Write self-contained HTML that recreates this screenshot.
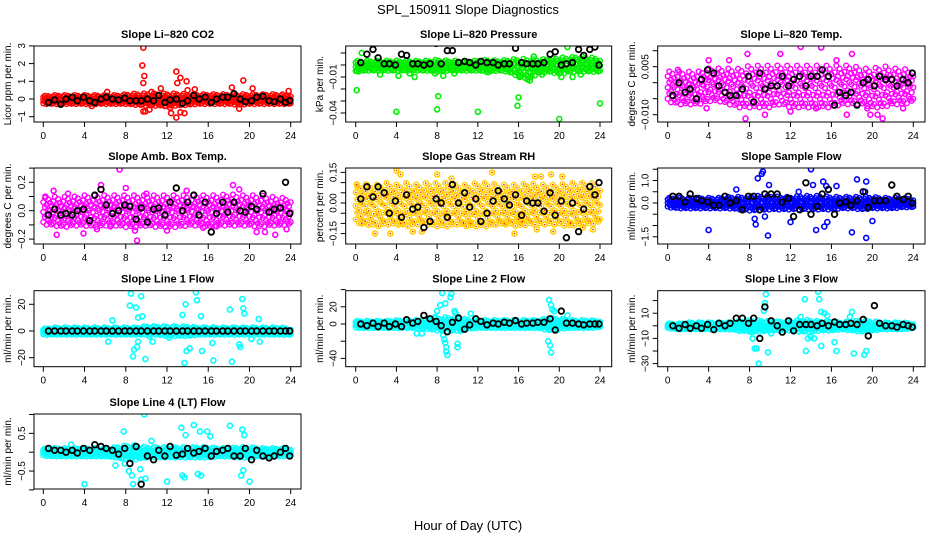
<!DOCTYPE html>
<html><head><meta charset="utf-8"><style>
html,body{margin:0;padding:0;background:#fff}
svg{display:block;font-family:"Liberation Sans",sans-serif}
</style></head><body>
<svg id="chart" width="936" height="540" xmlns="http://www.w3.org/2000/svg">
<rect width="936" height="540" fill="#fff"/>
<text x="468" y="14" font-size="13" text-anchor="middle">SPL_150911  Slope Diagnostics</text>
<text x="468" y="530" font-size="13" text-anchor="middle">Hour of Day (UTC)</text>
</svg>
<script>
const blackX=[0.5,1.1,1.7,2.2,2.8,3.3,3.9,4.5,5.0,5.6,6.1,6.7,7.3,7.9,8.4,9.0,9.5,10.1,10.7,11.2,11.8,12.3,12.9,13.5,14.0,14.6,15.1,15.7,16.3,16.8,17.4,17.9,18.5,19.1,19.6,20.2,20.7,21.3,21.9,22.4,23.0,23.5,23.9];
const xTicks=[0,4,8,12,16,20,24];

const p1Black=[-0.2,-0.05,-0.3,0,0.1,-0.1,0.1,-0.1,-0.2,0,0.1,0,-0.05,0.05,-0.1,-0.1,-0.1,0,-0.1,0.2,-0.2,-0.05,0,-0.25,-0.1,0.2,0,0.1,-0.2,0,0.1,0.1,0.3,0,-0.15,-0.1,0.1,0.15,-0.1,-0.15,0,-0.2,-0.1];
const p1Lo=[-0.3,-0.3,-0.3,-0.3,-0.3,-0.3,-0.3,-0.3,-0.3,-0.35,-0.4,-0.4,-0.4,-0.4,-0.35,-0.3,-0.3,-0.3,-0.3,-0.35,-0.3,-0.3,-0.3,-0.3,-0.3];
const p1Hi=[0.2,0.25,0.25,0.25,0.25,0.25,0.25,0.25,0.3,0.35,0.35,0.35,0.35,0.35,0.3,0.3,0.3,0.3,0.3,0.3,0.3,0.3,0.3,0.3,0.25];
const p1OutX=[9.7,9.6,9.8,9.7,9.7,9.9,10.3,10.5,11.4,12.3,12.4,12.9,13.0,13.3,12.9,13.3,13.7,13.9,14.7,19.4,18.3,20.3,19.0,4.7,6.2,23.8,14.0,11.8];
const p1OutY=[2.9,1.9,1.3,0.9,-0.7,-0.7,-0.6,0.4,0.6,-0.5,-0.8,1.55,0.9,1.2,-1.05,-0.75,-0.8,1.0,0.55,1.05,0.65,0.6,-0.55,-0.4,0.4,0.45,0.5,-0.4];

const p2Black=[0.002,0.009,0.013,0.006,0.001,0.001,0,0.009,0.008,0.001,0.001,0,0.001,0.018,0.001,0.012,0.012,0.002,0.003,0.002,0,0.003,0.002,0.002,0,0.001,0.001,0.014,0.002,0.001,0.001,0.001,0.002,0.009,0.011,0,0.001,0.002,0.013,0.008,0.013,0.015,0.0];
const p2Lo=[-0.006,-0.005,-0.005,-0.005,-0.005,-0.005,-0.005,-0.005,-0.006,-0.005,-0.005,-0.005,-0.005,-0.006,-0.005,-0.006,-0.01,-0.012,-0.007,-0.006,-0.008,-0.006,-0.006,-0.006,-0.006];
const p2Hi=[0.004,0.004,0.004,0.004,0.004,0.004,0.004,0.004,0.005,0.004,0.004,0.004,0.004,0.005,0.004,0.005,0.006,0.006,0.005,0.006,0.007,0.007,0.008,0.007,0.006];
const p2OutX=[0.1,0.1,2.4,4.0,4.2,5.3,5.8,8.1,8.0,7.8,8.6,9.7,12.0,13.0,16.0,15.9,16.1,16.9,17.1,20.0,20.2,21.3,24.0,22.1,0.6,20.8,18.3,17.5];
const p2OutY=[-0.021,-0.005,-0.008,-0.039,-0.009,-0.007,-0.01,-0.026,-0.037,-0.007,-0.009,-0.007,-0.039,-0.006,-0.027,-0.034,-0.01,-0.012,-0.013,-0.045,-0.01,-0.01,-0.032,-0.008,0.01,0.015,-0.008,0.007];

const p3Black=[-0.004,0,-0.003,-0.002,-0.005,0.001,0.004,0.003,-0.001,-0.003,-0.004,-0.004,-0.002,0.002,-0.006,0.003,-0.002,-0.001,-0.001,0.002,-0.001,0.001,0.002,-0.001,0.002,0.002,0.004,0.002,-0.007,-0.003,-0.004,-0.003,-0.007,0,0.001,-0.001,0.002,0.001,0.001,-0.001,0.001,0,0.003];
const p3Lo=[-0.006,-0.007,-0.007,-0.007,-0.006,-0.006,-0.007,-0.008,-0.008,-0.008,-0.008,-0.007,-0.008,-0.008,-0.008,-0.008,-0.008,-0.007,-0.007,-0.007,-0.008,-0.008,-0.007,-0.007,-0.006];
const p3Hi=[0.004,0.004,0.004,0.004,0.005,0.005,0.005,0.005,0.006,0.006,0.006,0.006,0.006,0.006,0.006,0.006,0.006,0.006,0.006,0.005,0.005,0.006,0.005,0.005,0.004];
const p3OutX=[7.8,13.0,15.0,7.6,21.0,17.5,19.8,20.5,11.0,4.0,18.0,12.0,14.5,3.8,9.5,23.0,1.0,6.0,16.5,19.5];
const p3OutY=[0.009,0.0112,0.011,-0.0112,-0.0112,-0.010,-0.010,-0.010,0.009,0.007,0.009,-0.009,-0.008,-0.008,-0.010,-0.008,0.004,0.007,0.007,-0.008];

const p4Black=[-0.03,0.01,-0.03,-0.02,-0.03,0,0.01,-0.07,0.11,0.15,0.04,-0.02,0,0.04,0.03,-0.06,0.02,-0.08,0.01,0.02,-0.03,0.06,0.16,0,0.06,0.11,-0.03,0.06,-0.15,-0.02,0.06,-0.01,0.06,0,-0.01,0.03,0.01,0.12,-0.01,0.01,0.02,0.2,-0.02];
const p4Lo=[-0.1,-0.11,-0.12,-0.11,-0.11,-0.12,-0.11,-0.11,-0.12,-0.12,-0.11,-0.12,-0.12,-0.12,-0.11,-0.11,-0.12,-0.11,-0.11,-0.11,-0.11,-0.12,-0.11,-0.11,-0.1];
const p4Hi=[0.1,0.11,0.11,0.11,0.12,0.12,0.12,0.12,0.12,0.12,0.12,0.12,0.12,0.12,0.12,0.12,0.12,0.12,0.13,0.12,0.12,0.12,0.11,0.1,0.1];
const p4OutX=[7.4,9.1,8.9,1.3,3.9,5.6,2.4,8.0,10.0,18.4,15.5,19.0,20.7,21.5,22.5,23.6,13.9,5.2,12.0,16.8,6.5,0.2,1.0];
const p4OutY=[0.29,-0.21,-0.14,-0.17,-0.16,0.18,0.12,0.16,0.12,0.18,-0.12,0.15,-0.15,-0.15,-0.17,-0.13,0.14,-0.13,-0.14,-0.11,-0.11,0.1,0.14];

const p5Black=[0.02,0.08,0.03,0.08,0.05,-0.05,0.01,-0.07,0.04,-0.03,-0.02,-0.12,-0.09,0.02,0,-0.07,0.09,0,0.05,-0.02,0.02,-0.09,-0.05,0.01,0.06,0.02,-0.01,0.04,-0.06,0.01,0,0,-0.04,0.05,-0.06,0.01,-0.17,0,-0.14,-0.03,0.08,0.04,0.1];
const p5Lo=[-0.1,-0.11,-0.12,-0.11,-0.11,-0.12,-0.11,-0.11,-0.12,-0.12,-0.11,-0.12,-0.12,-0.12,-0.11,-0.11,-0.12,-0.11,-0.11,-0.11,-0.11,-0.12,-0.11,-0.11,-0.1];
const p5Hi=[0.09,0.1,0.1,0.11,0.1,0.11,0.1,0.11,0.11,0.11,0.1,0.1,0.11,0.11,0.1,0.1,0.1,0.11,0.1,0.1,0.1,0.11,0.11,0.11,0.1];
const p5OutX=[0.1,1.0,4.0,4.4,3.4,1.9,0.6,5.6,6.5,8.0,9.4,10.6,13.4,15.6,16.0,17.6,18.2,17.8,19.2,19.4,20.3,21.1,23.3,22.3,11.3,16.4,4.4,14.6];
const p5OutY=[0.09,0.09,0.16,0.14,-0.15,-0.15,-0.1,-0.14,-0.14,0.14,0.12,-0.1,0.15,-0.15,-0.08,0.13,0.13,-0.13,0.14,-0.14,0.13,-0.1,-0.13,-0.12,-0.1,-0.09,-0.1,-0.1];

const p6Black=[0.3,0.3,0.05,0.4,0.2,0.1,0.05,-0.1,-0.1,0.3,0,0.1,-0.3,0.3,0.3,-0.3,0.4,0.4,0.4,0.05,0.2,-0.6,-0.3,0.9,-0.5,-0.15,0.4,0.6,-0.5,0,0.05,-0.1,0.1,0.5,-0.2,0.1,0.1,0.1,0.8,0.3,0.15,0.3,0];
const p6Lo=[-0.2,-0.25,-0.25,-0.25,-0.25,-0.25,-0.25,-0.3,-0.35,-0.35,-0.3,-0.3,-0.3,-0.3,-0.3,-0.3,-0.3,-0.25,-0.25,-0.3,-0.25,-0.25,-0.25,-0.2,-0.2];
const p6Hi=[0.25,0.25,0.25,0.25,0.25,0.25,0.3,0.3,0.35,0.35,0.35,0.3,0.3,0.35,0.35,0.35,0.3,0.3,0.3,0.3,0.3,0.25,0.25,0.25,0.2];
const p6OutX=[9.2,9.3,8.8,14.0,9.9,6.7,14.2,15.2,15.5,16.5,18.5,19.4,19.3,4.0,8.6,9.8,12.0,14.5,15.3,15.6,18.0,19.4,20.0,9.5,8.5,11.5,12.8];
const p6OutY=[1.3,1.4,1.1,1.5,0.8,0.6,0.8,0.95,0.75,0.75,1.05,0.95,0.5,-1.2,-0.95,-1.45,-0.85,-1.2,-1.05,-0.85,-1.3,-1.55,-0.8,-0.6,-0.7,0.2,0.5];

const p7Black=[0,0,0,0,0,0,0,0,0,0,0,0,0,0,0,0,0,0,0,0,0,0,0,0,0,0,0,0,0,0,0,0,0,0,0,0,0,0,0,0,0,0,0];
const p7Lo=[-3,-3,-3,-3,-3,-3,-3,-3,-3,-3,-3,-3,-4,-4,-4,-3,-3,-3,-3,-3,-3,-3,-3,-3,-3];
const p7Hi=[2,3,3,3,3,3,3,3,3,3,4,4,4,4,4,3,3,3,3,3,3,3,3,3,2];
const p7OutX=[8.5,8.4,9.0,9.5,9.6,9.2,8.7,8.8,9.1,9.2,9.9,10.3,10.6,13.7,13.8,13.5,13.9,14.2,14.8,14.9,15.3,15.4,16.5,16.4,18.1,18.3,19.3,19.4,19.5,19.0,19.1,20.2,21.0,20.9,6.3,6.7,12.2];
const p7OutY=[28,19,17.5,26,11,10,-19,-14,-12,-8,-21,-4,-8,-24,20,12,-15,-13,29,23,11,-15,-22,-9,16,-23,24,17,13,-10,-12,-6,-8,9,-8,8,-5];

const p8Black=[0,-2,1,-3,1,-3,0,-3,5,1,3,10,6,3,-2,-9,2,7,-6,-1,6,3,-1,1,0,2,1,4,0,1,1,2,2,6,-7,15,1,1,0,-1,0,0,0];
const p8Lo=[-5,-5,-5,-5,-5,-5,-5,-6,-8,-9,-8,-6,-5,-5,-5,-5,-5,-5,-5,-8,-6,-5,-5,-5,-4];
const p8Hi=[4,4,4,4,5,5,5,6,8,9,8,6,5,5,5,5,5,5,5,8,7,5,5,5,4];
const p8OutX=[8.5,8.3,8.8,8.6,8.7,8.8,8.9,8.9,9.0,9.3,9.4,8.0,9.7,9.8,10.0,10.0,10.3,11.3,10.5,6.0,6.5,19.0,19.2,19.3,19.5,18.9,19.1,19.2,19.8,20.8,7.8,11.0];
const p8OutY=[36,22,24,-13,-18,-22,-27,-32,-36,31,35,15,15,13,-27,-23,-8,12,-6,-11,-11,28,22,17,15,-20,-25,-33,-7,10,8,-4];

const p9Black=[0,-2,1,-2,0,-2,1,-3,2,0,2,6,6,2,6,-10,15,4,0,-5,4,-4,1,1,1,0,2,0,3,1,1,2,1,5,-8,16,2,0,0,-1,1,0,-1];
const p9Lo=[-2,-3,-3,-3,-3,-3,-3,-4,-5,-5,-4,-4,-4,-5,-5,-4,-4,-3,-4,-5,-4,-3,-3,-3,-2];
const p9Hi=[2,2,3,3,3,3,3,4,5,5,4,4,4,5,5,4,4,3,4,5,4,3,3,3,2];
const p9OutX=[9.6,9.5,9.4,8.9,8.5,8.7,8.3,8.2,9.8,10.1,13.4,13.5,13.7,14.0,14.3,14.7,14.8,15.0,15.3,15.6,15.0,16.3,16.5,18.0,18.2,19.2,19.4,17.8,13.0,7.0];
const p9OutY=[25,18,12,-30,-18,-18,-10,-5,-21,-6,21,-20,-10,-9,-10,27,21,11,10,8,-16,-13,-20,11,-22,-23,-20,7,7,-4];

const p10Black=[0.1,0.05,0.05,0,0.05,-0.02,0.1,0.05,0.2,0.15,0.1,0.05,-0.05,0.1,-0.3,0.15,-0.85,-0.1,-0.2,0.05,-0.1,0.15,-0.08,-0.05,0.1,-0.02,0.02,0.1,-0.1,0.02,0.05,0.1,-0.1,-0.1,0.1,-0.2,0.05,-0.1,-0.15,-0.1,0,0.1,-0.1];
const p10Lo=[-0.1,-0.12,-0.12,-0.12,-0.12,-0.12,-0.12,-0.15,-0.2,-0.2,-0.15,-0.15,-0.15,-0.15,-0.15,-0.15,-0.15,-0.12,-0.12,-0.15,-0.15,-0.12,-0.12,-0.12,-0.1];
const p10Hi=[0.1,0.12,0.12,0.12,0.12,0.12,0.12,0.15,0.2,0.2,0.15,0.15,0.15,0.15,0.15,0.15,0.15,0.12,0.12,0.15,0.15,0.12,0.12,0.12,0.1];
const p10OutX=[9.8,7.8,13.4,13.8,14.6,15.2,15.9,16.2,18.1,19.3,19.5,4.0,8.6,8.7,9.4,9.5,9.9,12.0,13.5,13.7,15.0,15.3,19.2,19.4,20.0,7.0,7.9,8.3,2.7,10.5];
const p10OutY=[1.0,0.55,0.65,0.45,0.72,0.55,0.55,0.42,0.7,0.6,0.45,-0.85,-0.62,-0.85,-0.45,-0.73,-0.7,-0.78,-0.62,-0.67,-0.58,-0.62,-0.62,-0.48,-0.78,-0.35,-0.3,-0.5,0.2,0.3];

const svg=document.getElementById('chart');
const NS='http://www.w3.org/2000/svg';
function mk(tag,attrs,parent){const e=document.createElementNS(NS,tag);for(const k in attrs)e.setAttribute(k,attrs[k]);(parent||svg).appendChild(e);return e;}

const cols=[{L:34,R:301,x0:43.3,x24:290.7,yt:8},{L:345.7,R:611.7,x0:355.7,x24:600,yt:320},{L:657.7,R:925,x0:667.7,x24:913.3,yt:632}];
const rows=[{T:46,B:122},{T:168,B:244},{T:290.7,B:366.7},{T:414,B:489}];

const panels=[
 {name:'co2',title:'Slope Li\u2013820 CO2',ylab:'Licor ppm per min.',c:0,r:0,y0:99,unit:1,upu:17.7,ticks:[-1,0,1,2,3],labels:['\u22121','0','1','2','3'],color:'#ff0000',black:p1Black,lo:p1Lo,hi:p1Hi,ox:p1OutX,oy:p1OutY},
 {name:'pressure',title:'Slope Li\u2013820 Pressure',ylab:'kPa per min.',c:1,r:0,y0:65,unit:0.01,upu:12,ticks:[0.01,0,-0.01,-0.02,-0.03,-0.04],labels:['','','\u22120.01','','','\u22120.04'],color:'#00ee00',black:p2Black,lo:p2Lo,hi:p2Hi,ox:p2OutX,oy:p2OutY},
 {name:'li-temp',title:'Slope Li\u2013820 Temp.',ylab:'degrees C per min.',c:2,r:0,y0:82.7,unit:0.005,upu:16,ticks:[0.01,0.005,0,-0.005,-0.01],labels:['','0.005','','','\u22120.010'],color:'#ff00ff',black:p3Black,lo:p3Lo,hi:p3Hi,ox:p3OutX,oy:p3OutY},
 {name:'amb-box-temp',title:'Slope Amb. Box Temp.',ylab:'degrees C per min.',c:0,r:1,y0:210.7,unit:0.1,upu:14.2,ticks:[0.3,0.2,0.1,0,-0.1,-0.2],labels:['','0.2','','0.0','','\u22120.2'],color:'#ff00ff',black:p4Black,lo:p4Lo,hi:p4Hi,ox:p4OutX,oy:p4OutY},
 {name:'gas-stream-rh',title:'Slope Gas Stream RH',ylab:'percent per min.',c:1,r:1,y0:203,unit:0.05,upu:10.2,ticks:[0.15,0.1,0.05,0,-0.05,-0.1,-0.15],labels:['0.15','','','0.00','','','\u22120.15'],color:'#ffd000',dot:'#ff2000',black:p5Black,lo:p5Lo,hi:p5Hi,ox:p5OutX,oy:p5OutY},
 {name:'sample-flow',title:'Slope Sample Flow',ylab:'ml/min per min.',c:2,r:1,y0:203,unit:0.5,upu:11.25,ticks:[1.5,1,0.5,0,-0.5,-1,-1.5],labels:['','1.0','','0.0','','','\u22121.5'],color:'#0000ff',black:p6Black,lo:p6Lo,hi:p6Hi,ox:p6OutX,oy:p6OutY},
 {name:'line1-flow',title:'Slope Line 1 Flow',ylab:'ml/min per min.',c:0,r:2,y0:331,unit:20,upu:26.7,ticks:[20,0,-20],labels:['20','0','\u221220'],color:'#00ffff',black:p7Black,lo:p7Lo,hi:p7Hi,ox:p7OutX,oy:p7OutY},
 {name:'line2-flow',title:'Slope Line 2 Flow',ylab:'ml/min per min.',c:1,r:2,y0:324,unit:20,upu:17.2,ticks:[40,20,0,-20,-40],labels:['','20','0','','\u221240'],color:'#00ffff',black:p8Black,lo:p8Lo,hi:p8Hi,ox:p8OutX,oy:p8OutY},
 {name:'line3-flow',title:'Slope Line 3 Flow',ylab:'ml/min per min.',c:2,r:2,y0:325.8,unit:10,upu:12.6,ticks:[20,10,0,-10,-20,-30],labels:['','10','','\u221210','','\u221230'],color:'#00ffff',black:p9Black,lo:p9Lo,hi:p9Hi,ox:p9OutX,oy:p9OutY},
 {name:'line4-lt-flow',title:'Slope Line 4 (LT) Flow',ylab:'ml/min per min.',c:0,r:3,y0:452.2,unit:0.5,upu:18.85,ticks:[1,0.5,0,-0.5,-1],labels:['','0.5','','\u22120.5',''],color:'#00ffff',black:p10Black,lo:p10Lo,hi:p10Hi,ox:p10OutX,oy:p10OutY}
];

function interp(arr,h){const i=Math.min(23,Math.floor(h));const f=h-i;return arr[i]*(1-f)+arr[i+1]*f;}
// fixed placement pattern (fractions of band) for texture
const fillPattern=[[0.1,0.45,0.8],[0.28,0.62,0.95],[0.02,0.35,0.7],[0.2,0.55,0.88],[0.12,0.5,0.76],[0.3,0.66,0.05]];

panels.forEach(p=>{
  const col=cols[p.c],row=rows[p.r];
  const g=mk('g',{});
  
  
  const xs=h=>col.x0+(col.x24-col.x0)*h/24;
  const ys=v=>p.y0-v/p.unit*p.upu;
  const clipId='clip-'+p.name;
  const cp=mk('clipPath',{id:clipId},g);
  mk('rect',{x:col.L,y:row.T,width:col.R-col.L,height:row.B-row.T},cp);
  const marks=mk('g',{'clip-path':'url(#'+clipId+')'},g);
  
  
  let idx=0;
  for(let h=0;h<=24.001;h+=0.16){
    const lo=interp(p.lo,h),hi=interp(p.hi,h);
    const pat=fillPattern[idx%fillPattern.length];idx++;
    pat.forEach(fr=>{
      const v=lo+(hi-lo)*fr;
      const c=mk('circle',{cx:xs(h).toFixed(1),cy:ys(v).toFixed(1),r:2.4,fill:'none',stroke:p.color,'stroke-width':1.4},marks);
      
      
      if(p.dot){mk('circle',{cx:xs(h).toFixed(1),cy:ys(v).toFixed(1),r:0.8,fill:p.dot},marks);}
    });
  }
  p.ox.forEach((h,i)=>{
    const c=mk('circle',{cx:xs(h).toFixed(1),cy:ys(p.oy[i]).toFixed(1),r:2.5,fill:'none',stroke:p.color,'stroke-width':1.6},marks);
    
    
    if(p.dot){mk('circle',{cx:xs(h).toFixed(1),cy:ys(p.oy[i]).toFixed(1),r:0.8,fill:p.dot},marks);}
  });
  p.black.forEach((v,i)=>{
    const c=mk('circle',{cx:xs(blackX[i]).toFixed(1),cy:ys(v).toFixed(1),r:2.8,fill:'none',stroke:'#000','stroke-width':1.8},marks);
    
    
  });
  const box=mk('rect',{x:col.L,y:row.T,width:col.R-col.L,height:row.B-row.T,fill:'none',stroke:'#000','stroke-width':1},g);
  
  
  const t=mk('text',{x:(col.L+col.R)/2,y:row.T-8,'font-size':11,'font-weight':'bold','text-anchor':'middle'},g);
  t.textContent=p.title;
  
  
  xTicks.forEach(h=>{
    mk('line',{x1:xs(h),x2:xs(h),y1:row.B,y2:row.B+5,stroke:'#000'},g);
    const l=mk('text',{x:xs(h),y:row.B+17,'font-size':10,'text-anchor':'middle'},g);
    l.textContent=h;
    
    
  });
  p.ticks.forEach((v,i)=>{
    const y=ys(v);
    mk('line',{x1:col.L-5,x2:col.L,y1:y,y2:y,stroke:'#000'},g);
    if(p.labels[i]){
      const l=mk('text',{x:col.L-9,y:y,'font-size':10,'text-anchor':'middle',transform:'rotate(-90 '+(col.L-9)+' '+y+')'},g);
      l.textContent=p.labels[i];
      
      
    }
  });
  const ym=(row.T+row.B)/2;
  const yl=mk('text',{x:col.yt+3,y:ym,'font-size':10,'text-anchor':'middle',transform:'rotate(-90 '+(col.yt+3)+' '+ym+')'},g);
  yl.textContent=p.ylab;
  
  
});
</script>
</body></html>
